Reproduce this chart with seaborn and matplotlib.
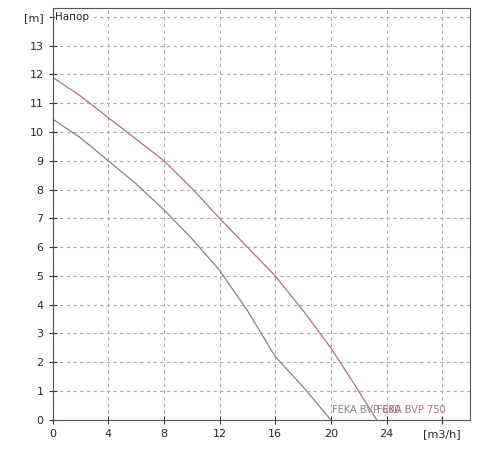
import matplotlib
matplotlib.use("Agg")
import matplotlib.pyplot as plt
import seaborn as sns
import pandas as pd
from matplotlib.ticker import MultipleLocator

sns.set_style("white")
plt.rcParams["font.family"] = ["DejaVu Sans"]

# pump curves
flow_600 = [0, 2, 4, 6, 8, 10, 12, 14, 16, 18, 20]
head_600 = [10.45, 9.8, 9.0, 8.2, 7.3, 6.3, 5.2, 3.8, 2.2, 1.15, 0.0]
flow_750 = [0, 2, 4, 6, 8, 10, 12, 14, 16, 18, 20, 22, 23.3]
head_750 = [11.9, 11.25, 10.5, 9.75, 9.0, 8.05, 7.0, 6.0, 5.0, 3.8, 2.5, 1.0, 0.0]

df = pd.concat([
    pd.DataFrame({"q": flow_600, "h": head_600, "pump": "FEKA BVP 600"}),
    pd.DataFrame({"q": flow_750, "h": head_750, "pump": "FEKA BVP 750"}),
])
colors = {"FEKA BVP 600": "#8a7f86", "FEKA BVP 750": "#b56d80"}

fig, ax = plt.subplots(figsize=(5, 4.5), dpi=100)
sns.lineplot(data=df, x="q", y="h", hue="pump", palette=colors, lw=0.9,
             legend=False, ax=ax, sort=False)

ax.set_xlim(0, 30)
ax.set_ylim(0, 14.3)
ax.xaxis.set_minor_locator(MultipleLocator(1))
ax.yaxis.set_minor_locator(MultipleLocator(0.2))
ax.set_xticks([0, 4, 8, 12, 16, 20, 24, 28])
ax.set_xticklabels(["0", "4", "8", "12", "16", "20", "24", "[m3/h]"])
ax.set_yticks(range(15))
ax.set_yticklabels([str(i) for i in range(14)] + ["[m]"])
ax.tick_params(which="major", length=6, direction="inout", labelsize=8, color="#333")
ax.tick_params(which="minor", length=3, direction="inout", color="#333")
ax.tick_params(axis="x", bottom=True)
ax.tick_params(axis="y", left=True)
ax.grid(True, which="major", ls=(0, (3, 3)), color="#aaa", lw=0.8)
for s in ax.spines.values():
    s.set_color("#555")
ax.set_xlabel("")
ax.set_ylabel("")

ax.text(0.2, 14, "Напор", fontsize=7.5, va="center", color="#222",
        bbox=dict(fc="white", ec="none", pad=0.5))
ax.text(20.1, 0.25, "FEKA BVP 600", fontsize=7, color=colors["FEKA BVP 600"])
ax.text(23.3, 0.25, "FEKA BVP 750", fontsize=7, color=colors["FEKA BVP 750"])

fig.subplots_adjust(left=0.105, right=0.94, bottom=0.067, top=0.982)
fig.savefig("out.png", dpi=100)
